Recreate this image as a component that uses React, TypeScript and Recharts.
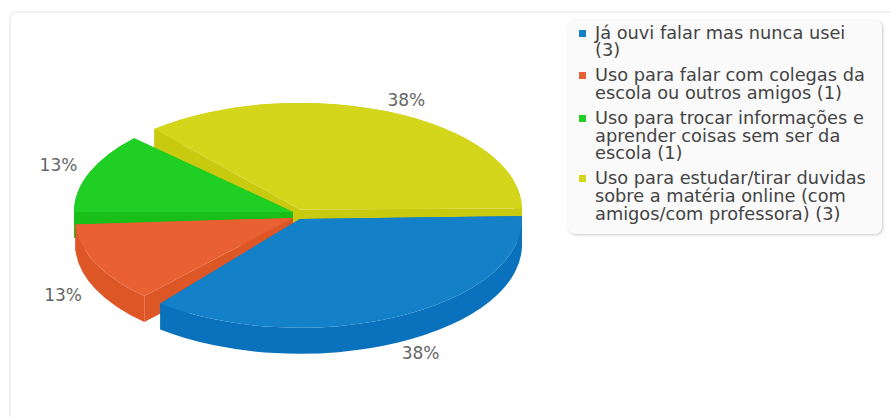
import React from 'react';
import { PieChart, Pie, Legend } from 'recharts';

const categories = [
  'Já ouvi falar mas nunca usei',
  'Uso para falar com colegas da escola ou outros amigos',
  'Uso para trocar informações e aprender coisas sem ser da escola',
  'Uso para estudar/tirar duvidas sobre a matéria online (com amigos/com professora)',
];
const counts = [3, 1, 1, 3];
const topColors = ['#1380c8', '#e96033', '#20cf23', '#d4d61b'];
const sideColors = ['#0a72bc', '#dd5626', '#17bf18', '#c8ca10'];

// small per-slice nudges that imitate the exploded 3D look of the original
const sliceDx = [3, -4, -4, 3];
const sliceDy = [5, 4, -2, -4.5];
const sliceGrow = [2, -2, -1, 2];
const sliceTilt = [0, 1, 1.5, 4];
const sliceSquash = [0.49, 0.49, 0.49, 0.48];
const labelDx = [0, -3, -2, -7];
const labelDy = [0, 0, -3, 0];

const CX = 297;
const CY = 214;
const RADIUS = 220;
const DEPTH = 26;

// painted back to front, so the list runs the other way round
const tableData = categories
  .map((name, i) => ({ name, value: counts[i], idx: i, fill: topColors[i] }))
  .reverse();

function Slice3D(props: any) {
  const { cx, cy, outerRadius, startAngle, endAngle, payload } = props;
  const i = payload?.idx ?? props.idx;
  const x0 = cx + sliceDx[i];
  const y0 = cy + sliceDy[i];
  const rx = outerRadius + sliceGrow[i];
  const ry = rx * sliceSquash[i];
  const tilt = sliceTilt[i];

  const pt = (deg: number) => {
    const a = (-(deg - tilt) * Math.PI) / 180;
    return [x0 + rx * Math.cos(a), y0 + ry * Math.sin(a)];
  };
  const [ax, ay] = pt(startAngle);
  const [bx, by] = pt(endAngle);
  const big = Math.abs(endAngle - startAngle) > 180 ? 1 : 0;
  const sweep = endAngle > startAngle ? 0 : 1;
  const back = sweep ? 0 : 1;

  const wall = `M${ax},${ay} A${rx},${ry} 0 ${big} ${sweep} ${bx},${by} L${bx},${by + DEPTH} A${rx},${ry} 0 ${big} ${back} ${ax},${ay + DEPTH} Z`;
  const faceA = `M${x0},${y0} L${ax},${ay} L${ax},${ay + DEPTH} L${x0},${y0 + DEPTH} Z`;
  const faceB = `M${x0},${y0} L${bx},${by} L${bx},${by + DEPTH} L${x0},${y0 + DEPTH} Z`;
  const top = `M${x0},${y0} L${ax},${ay} A${rx},${ry} 0 ${big} ${sweep} ${bx},${by} Z`;

  return (
    <g>
      <path d={wall} fill={sideColors[i]} />
      <path d={faceA} fill={sideColors[i]} />
      <path d={faceB} fill={sideColors[i]} />
      <path d={top} fill={topColors[i]} />
    </g>
  );
}

const renderLabel = (props: any) => {
  const { cx, cy, midAngle, percent, payload } = props;
  const i = payload?.idx ?? props.idx;
  const a = ((midAngle - sliceTilt[i]) * Math.PI) / 180;
  const s = Math.sin(a);
  const c = Math.cos(a);
  const x = cx + sliceDx[i] + labelDx[i] + 230 * c;
  const y = cy + sliceDy[i] + labelDy[i] - 120 * s + (s < 0 ? 26 : 0);
  return (
    <text
      x={x}
      y={y}
      textAnchor={c > 0 ? 'start' : 'end'}
      dominantBaseline="central"
      fill="#666"
      fontSize={17}
      fontFamily="DejaVu Sans"
    >
      {`${Math.round(percent * 100)}%`}
    </text>
  );
};

function ChartLegend() {
  return (
    <div
      style={{
        width: 314,
        height: 214,
        boxSizing: 'border-box',
        background: '#fafafa',
        borderRadius: 7,
        boxShadow: '1px 1px 3px rgba(0,0,0,0.22)',
        padding: '4.5px 12px 0 27px',
        fontFamily: 'DejaVu Sans',
        fontSize: 17.75,
        lineHeight: '17.7px',
        color: '#444',
      }}
    >
      {categories.map((name, i) => (
        <div key={name} style={{ position: 'relative', marginBottom: 7.3 }}>
          <span
            style={{
              position: 'absolute',
              left: -16,
              top: 5,
              width: 7,
              height: 7,
              background: topColors[i],
            }}
          />
          {name} ({counts[i]})
        </div>
      ))}
    </div>
  );
}

export default function App() {
  return (
    <div style={{ position: 'fixed', left: 0, top: 0, width: 891, height: 417, overflow: 'hidden', background: '#fff' }}>
      <div
        style={{
          position: 'absolute',
          left: 9,
          top: 11,
          width: 920,
          height: 440,
          border: '2px solid #f2f2f2',
          borderRadius: 8,
          boxSizing: 'border-box',
        }}
      />
      <div style={{ position: 'absolute', left: 0, top: 0 }}>
        <PieChart width={891} height={417} margin={{ top: 0, right: 0, bottom: 0, left: 0 }}>
          <Pie
            data={tableData}
            dataKey="value"
            nameKey="name"
            cx={CX}
            cy={CY}
            outerRadius={RADIUS}
            startAngle={4.5}
            endAngle={364.5}
            paddingAngle={3}
            stroke="none"
            shape={Slice3D}
            label={renderLabel}
            labelLine={false}
            isAnimationActive={false}
          />
          <Legend
            content={<ChartLegend />}
            wrapperStyle={{ position: 'absolute', left: 568, top: 20, width: 314, height: 214, bottom: 'auto' }}
          />
        </PieChart>
      </div>
    </div>
  );
}
